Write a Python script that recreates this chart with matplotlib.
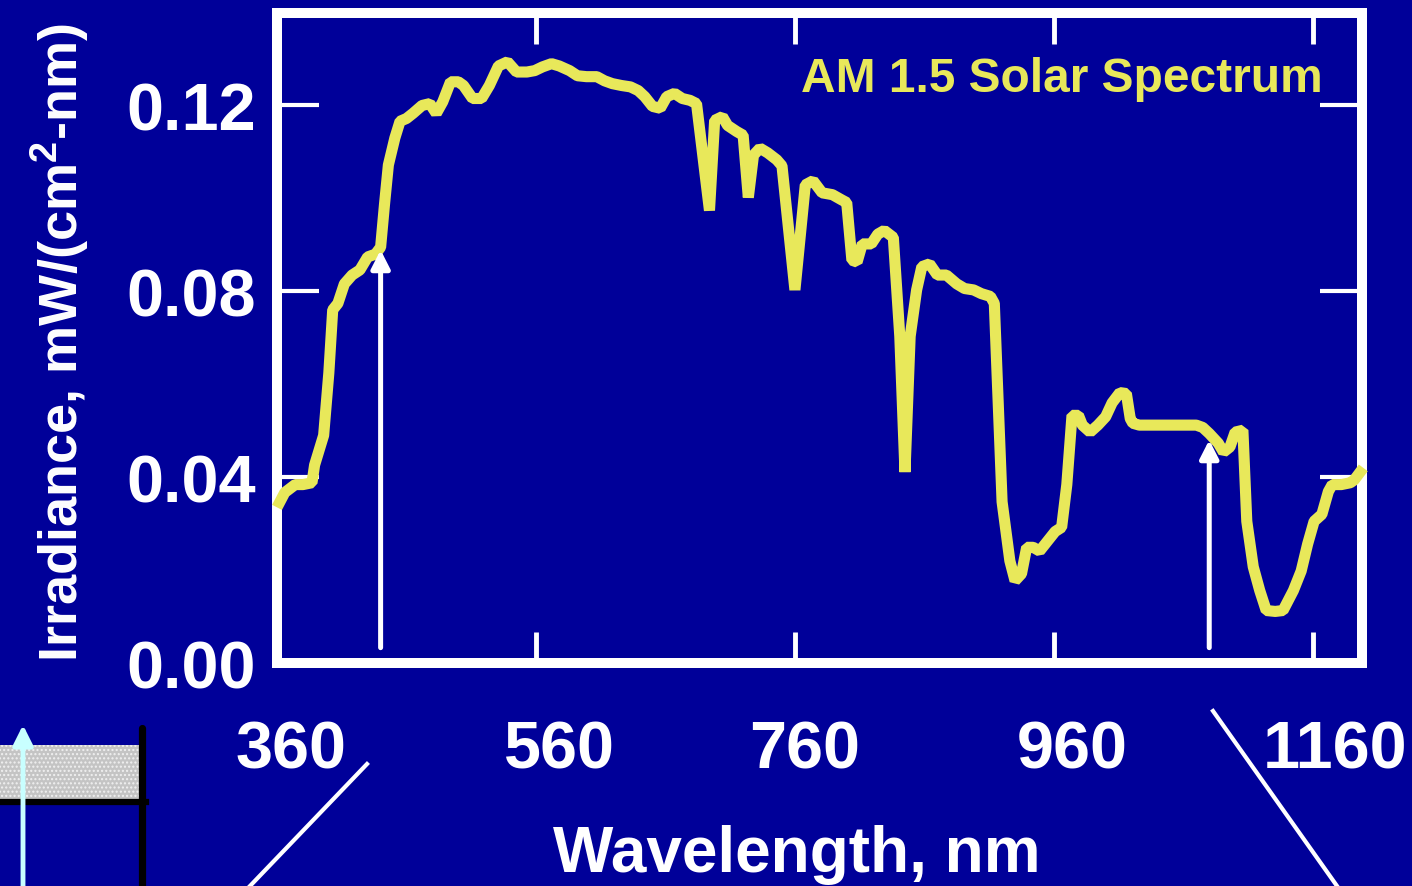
"""
am15_spectrum.py
AM 1.5 solar spectrum slide, redrawn with matplotlib
"""
import matplotlib
matplotlib.use('Agg')
import matplotlib.pyplot as plt
from matplotlib.lines import Line2D
from matplotlib.patches import Rectangle, FancyArrowPatch
from matplotlib.transforms import ScaledTranslation

# spectrum (nm, mW/(cm^2-nm))
wavelength = [360, 366, 374, 380, 387, 389, 396, 400, 403, 407, 412, 418, 424, 430,
              436, 440, 443, 446, 451, 455, 460, 465, 472, 478, 483, 488, 494, 500,
              504, 511, 518, 524, 531, 538, 545, 553, 559, 565, 572, 578, 586, 592,
              599, 607, 613, 619, 626, 633, 639, 644, 650, 656, 661, 667, 673, 679,
              684, 694, 698, 704, 708, 715, 720, 724, 728, 733, 739, 746, 750, 760,
              768, 774, 781, 789, 796, 800, 804, 808, 812, 819, 824, 829, 836, 841,
              845, 849, 854, 858, 864, 870, 877, 885, 891, 898, 904, 911, 914, 920,
              926, 930, 935, 939, 944, 949, 955, 961, 966, 970, 974, 979, 982, 988,
              994, 1000, 1005, 1011, 1016, 1019, 1021, 1026, 1070, 1075, 1080, 1087,
              1091, 1096, 1100, 1106, 1109, 1114, 1119, 1124, 1131, 1137, 1145, 1151,
              1156, 1161, 1167, 1172, 1175, 1182, 1189, 1192, 1199]
irradiance = [0.0335, 0.0367, 0.0384, 0.0384, 0.0388, 0.0426, 0.0490, 0.0624, 0.0760,
              0.0774, 0.0816, 0.0835, 0.0846, 0.0874, 0.0880, 0.0895, 0.0987, 0.1072,
              0.1130, 0.1166, 0.1172, 0.1183, 0.1200, 0.1204, 0.1183, 0.1208, 0.1251,
              0.1251, 0.1243, 0.1215, 0.1215, 0.1243, 0.1285, 0.1294, 0.1272, 0.1272,
              0.1275, 0.1283, 0.1290, 0.1285, 0.1275, 0.1264, 0.1262, 0.1262, 0.1253,
              0.1247, 0.1243, 0.1240, 0.1232, 0.1219, 0.1198, 0.1194, 0.1219, 0.1226,
              0.1215, 0.1211, 0.1204, 0.0974, 0.1168, 0.1176, 0.1157, 0.1144, 0.1136,
              0.1002, 0.1093, 0.1108, 0.1098, 0.1083, 0.1070, 0.0803, 0.1029, 0.1038,
              0.1012, 0.1008, 0.0997, 0.0991, 0.0867, 0.0863, 0.0902, 0.0902, 0.0923,
              0.0931, 0.0916, 0.0703, 0.0411, 0.0703, 0.0803, 0.0853, 0.0859, 0.0835,
              0.0835, 0.0816, 0.0806, 0.0803, 0.0795, 0.0789, 0.0774, 0.0347, 0.0220,
              0.0177, 0.0192, 0.0249, 0.0249, 0.0241, 0.0262, 0.0283, 0.0292, 0.0384,
              0.0533, 0.0533, 0.0512, 0.0497, 0.0512, 0.0530, 0.0560, 0.0582, 0.0580,
              0.0526, 0.0516, 0.0512, 0.0512, 0.0507, 0.0494, 0.0473, 0.0454, 0.0465,
              0.0497, 0.0501, 0.0305, 0.0207, 0.0156, 0.0113, 0.0111, 0.0113, 0.0156,
              0.0198, 0.0256, 0.0305, 0.0320, 0.0369, 0.0384, 0.0384, 0.0388, 0.0394,
              0.0420]

xtick_vals = [360, 560, 760, 960, 1160]
xtick_nudge = [14, 24, 10, 18, 22]   # labels sit a little right of the ticks (px)
ytick_vals = [0.0, 0.04, 0.08, 0.12]
ytick_labels = ['0.00', '0.04', '0.08', '0.12']
arrow_wl = [440, 1080]
arrow_top = [0.0889, 0.0480]

bg = '#000099'
yellow = '#e8e85a'

plt.rcParams['font.family'] = ['Liberation Sans', 'DejaVu Sans']
plt.rcParams['font.weight'] = 'bold'
plt.rcParams['mathtext.fontset'] = 'custom'
plt.rcParams['mathtext.bf'] = 'Liberation Sans:bold'
plt.rcParams['mathtext.rm'] = 'Liberation Sans:bold'

fig = plt.figure(figsize=(14.12, 8.87), dpi=100, facecolor=bg)
ax = fig.add_axes([0.1962, 0.2514, 0.7684, 0.7328])
ax.set_facecolor(bg)

ax.plot(wavelength, irradiance, color=yellow, lw=8, solid_joinstyle='bevel',
        solid_capstyle='butt', clip_on=False, zorder=3)

for sp in ax.spines.values():
    sp.set_color('white')
    sp.set_linewidth(7.2)

ax.set_xlim(360, 1198)
ax.set_ylim(0.0014, 0.1399)

ax.set_yticks(ytick_vals, ytick_labels)
ax.tick_params(axis='y', direction='in', length=30, width=3, colors='white',
               labelsize=48, pad=15, left=True, right=True)
ax.set_xticks(xtick_vals)
ax.set_xticklabels([])
ax.tick_params(axis='x', direction='in', length=22, width=3.5, color='white',
               top=True, bottom=True)

# x tick labels, drawn by hand so they can be nudged like on the slide
for v, dx in zip(xtick_vals, xtick_nudge):
    tr = ax.get_xaxis_transform() + ScaledTranslation(dx / 100, 0, fig.dpi_scale_trans)
    ax.text(v, -0.16, str(v), transform=tr, ha='center', va='baseline',
            color='white', fontsize=48, fontweight='bold')

ax.set_xlabel('Wavelength, nm', color='white', fontsize=46, fontweight='bold',
              va='baseline')
ax.xaxis.set_label_coords(0.479, -0.32)
ax.set_ylabel(r'Irradiance, mW/(cm$^\mathbf{2}$-nm)', color='white', fontsize=39,
              fontweight='bold', va='baseline')
ax.yaxis.set_label_coords(-0.1834, 0.495)

ax.text(0.964, 0.88, 'AM 1.5 Solar Spectrum', transform=ax.transAxes, ha='right',
        va='baseline', color=yellow, fontsize=34.5, fontweight='bold')

# band-edge arrows
for wl, top in zip(arrow_wl, arrow_top):
    ax.annotate('', xy=(wl, top), xytext=(wl, 0.0033),
                arrowprops=dict(arrowstyle='-|>,head_length=0.55,head_width=0.28',
                                mutation_scale=20, color='white', lw=3.6,
                                shrinkA=0, shrinkB=0), zorder=4)

# leftover slide bits below the chart
W, H = 1412, 887
fig.add_artist(Line2D([367 / W, 250 / W], [1 - 765 / H, 0], transform=fig.transFigure,
                      color='white', lw=3))
fig.add_artist(Line2D([1213 / W, 1337 / W], [1 - 712 / H, 0], transform=fig.transFigure,
                      color='white', lw=3))
fig.add_artist(Rectangle((0, 1 - 800 / H), 139 / W, 54 / H, transform=fig.transFigure,
                         facecolor='#c4c4c4', edgecolor='#f0f0f0', lw=0, hatch='....',
                         zorder=2))
fig.add_artist(Line2D([0, 146 / W], [1 - 803 / H, 1 - 803 / H], transform=fig.transFigure,
                      color='black', lw=4.5, zorder=3))
fig.add_artist(Line2D([142 / W, 142 / W], [1 - 729 / H, 0], transform=fig.transFigure,
                      color='black', lw=5.2, solid_capstyle='round', zorder=3))
fig.add_artist(FancyArrowPatch((23 / W, -0.01), (23 / W, 1 - 726 / H),
                               transform=fig.transFigure,
                               arrowstyle='-|>,head_length=0.6,head_width=0.3',
                               mutation_scale=20, color='#c8ffff', lw=3.5,
                               shrinkA=0, shrinkB=0, zorder=5))

fig.savefig('out.png', dpi=100, facecolor=bg)
